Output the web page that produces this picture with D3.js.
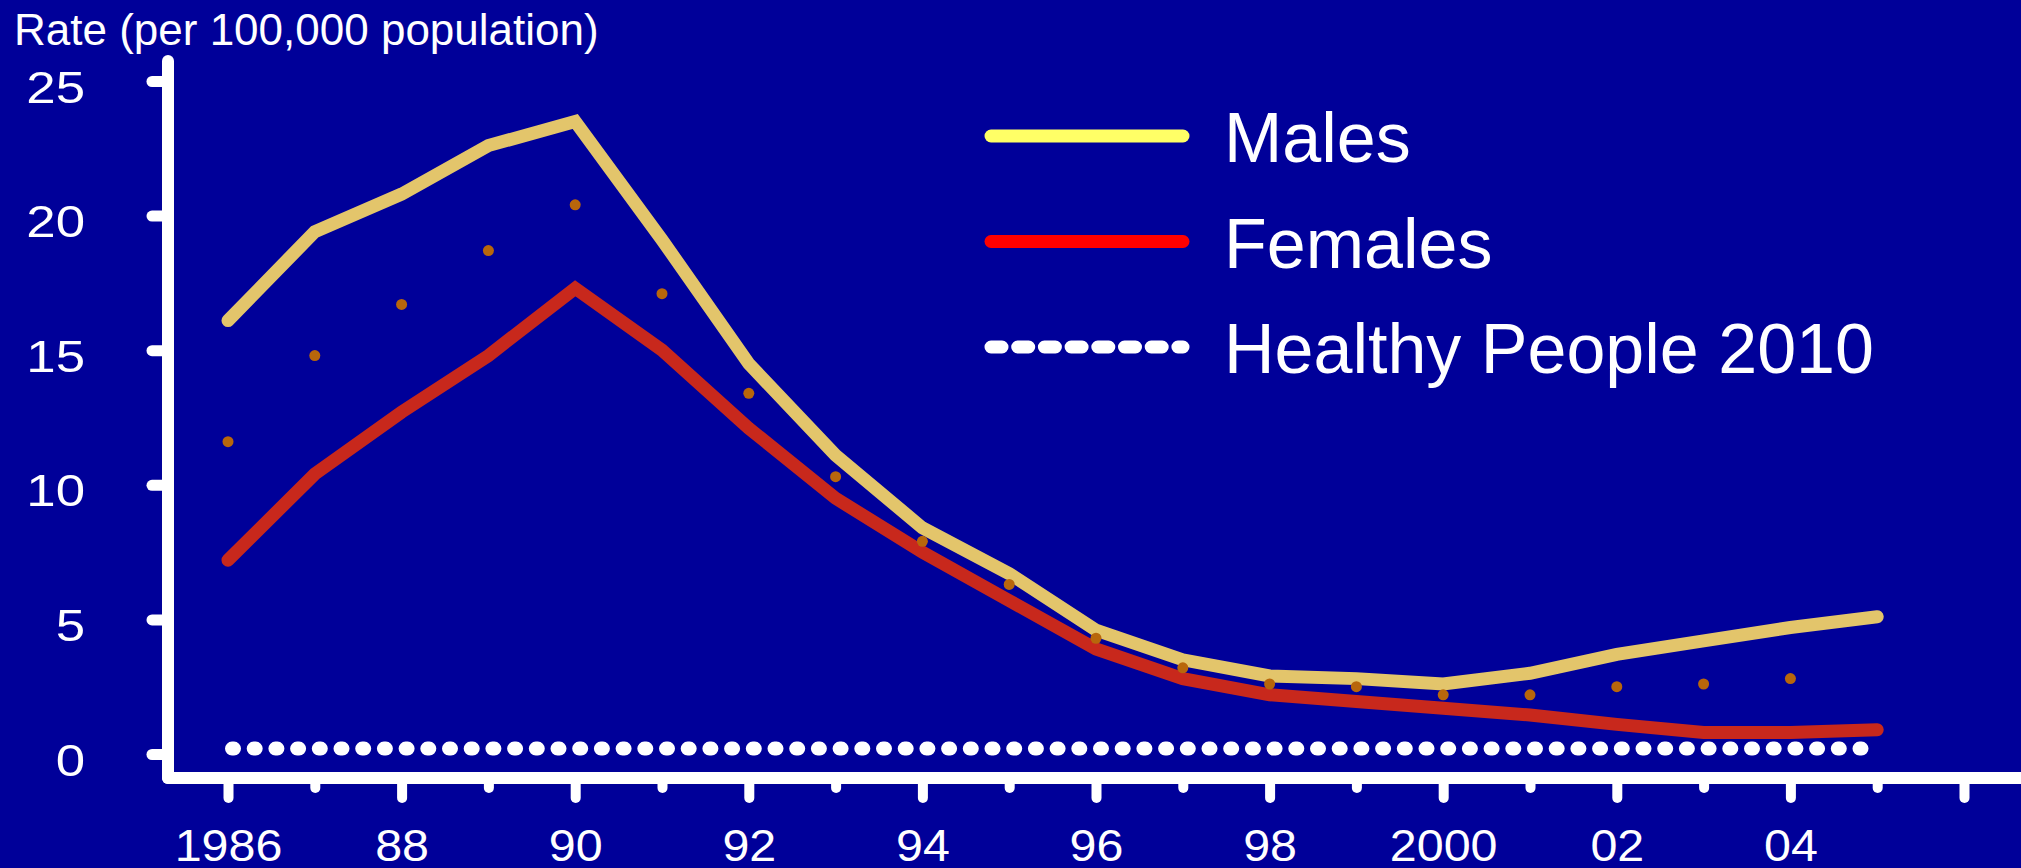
<!DOCTYPE html>
<html>
<head>
<meta charset="utf-8">
<script src="https://cdn.jsdelivr.net/npm/d3@7"></script>
<style>
  body { margin: 0; background: #000099; }
  text { font-family: "Liberation Sans", Arial, sans-serif; fill: #fff; }
</style>
</head>
<body>
<div id="chart"></div>
<script>
// Data
const years = d3.range(1986, 2006);
const males = [16.1, 19.4, 20.8, 22.6, 23.5, 19.1, 14.5, 11.1, 8.4, 6.7, 4.6, 3.5, 2.9, 2.8, 2.6, 3.0, 3.7, 4.2, 4.7, 5.1];
const females = [7.2, 10.4, 12.7, 14.8, 17.3, 15.0, 12.1, 9.5, 7.5, 5.7, 3.9, 2.8, 2.2, 1.95, 1.7, 1.45, 1.1, 0.8, 0.8, 0.9];
const totalYears = d3.range(1986, 2005);
const total = [11.6, 14.8, 16.7, 18.7, 20.4, 17.1, 13.4, 10.3, 7.9, 6.3, 4.3, 3.2, 2.6, 2.5, 2.2, 2.2, 2.5, 2.6, 2.8];
const target = 0.2; // Healthy People 2010
const yTicks = [0, 5, 10, 15, 20, 25];
const xTicks = d3.range(1986, 2007);
const legendLabels = ["Males", "Females", "Healthy People 2010"];

const W = 2021, H = 868;

const svg = d3.select("#chart").append("svg")
  .attr("width", W)
  .attr("height", H);

svg.append("rect").attr("width", W).attr("height", H).attr("fill", "#000099");

const x = d3.scaleLinear().domain([1986, 2006]).range([228, 1964]);
const y = d3.scaleLinear().domain([0, 25]).range([754, 81]);

const axisX0 = 168, axisY0 = 778;

// Axis lines
svg.append("line")
  .attr("x1", axisX0).attr("x2", axisX0)
  .attr("y1", y(25) - 20).attr("y2", axisY0)
  .attr("stroke", "#fff").attr("stroke-width", 12).attr("stroke-linecap", "round");
svg.append("line")
  .attr("x1", axisX0).attr("x2", W + 10)
  .attr("y1", axisY0).attr("y2", axisY0)
  .attr("stroke", "#fff").attr("stroke-width", 12).attr("stroke-linecap", "round");

// Y axis (labels are a bit wider than plain Arial in the original)
const gy = svg.append("g")
  .attr("transform", `translate(${axisX0},0)`)
  .call(d3.axisLeft(y).tickValues(yTicks).tickSize(16).tickFormat(d3.format("d")));
gy.select(".domain").remove();
gy.selectAll(".tick line").attr("stroke", "#fff").attr("stroke-width", 11).attr("stroke-linecap", "round");
gy.selectAll(".tick text")
  .attr("x", 0).attr("dy", "0.48em")
  .attr("transform", "translate(-83,0) scale(1.2,1)")
  .attr("fill", "#fff").attr("font-size", 44)
  .style("font-family", "'Liberation Sans', Arial, sans-serif");

// X axis
const fmtYear = d => {
  if (d % 2 === 1 || d === 2006) return "";
  if (d === 1986 || d === 2000) return String(d);
  return String(d % 100).padStart(2, "0");
};
const gx = svg.append("g")
  .attr("transform", `translate(0,${axisY0})`)
  .call(d3.axisBottom(x).tickValues(xTicks).tickSize(20).tickFormat(fmtYear));
gx.select(".domain").remove();
gx.selectAll(".tick line")
  .attr("y2", d => d % 2 === 0 ? 20 : 10)
  .attr("stroke", "#fff").attr("stroke-width", 10).attr("stroke-linecap", "round");
gx.selectAll(".tick text")
  .attr("y", 0).attr("dy", 0)
  .attr("transform", "translate(0,83) scale(1.1,1)")
  .attr("fill", "#fff").attr("font-size", 44)
  .style("font-family", "'Liberation Sans', Arial, sans-serif");

// Healthy People 2010 target
svg.append("path")
  .datum([1986, 2005])
  .attr("d", d3.line().x(d => x(d) + (d === 1986 ? 4 : -4)).y(() => y(target)))
  .attr("fill", "none")
  .attr("stroke", "#fff")
  .attr("stroke-width", 14)
  .attr("stroke-linecap", "round")
  .attr("stroke-dasharray", "2,19.7");

const line = d3.line().x(d => x(d[0])).y(d => y(d[1]));

svg.append("path")
  .datum(years.map((yr, i) => [yr, females[i]]))
  .attr("d", line)
  .attr("fill", "none")
  .attr("stroke", "#C8281C")
  .attr("stroke-width", 13)
  .attr("stroke-linecap", "round");

svg.append("path")
  .datum(years.map((yr, i) => [yr, males[i]]))
  .attr("d", line)
  .attr("fill", "none")
  .attr("stroke", "#E3C56B")
  .attr("stroke-width", 13)
  .attr("stroke-linecap", "round");

svg.selectAll("circle.total")
  .data(totalYears.map((yr, i) => [yr, total[i]]))
  .enter().append("circle")
  .attr("class", "total")
  .attr("cx", d => x(d[0]))
  .attr("cy", d => y(d[1]))
  .attr("r", 5.5)
  .attr("fill", "#B8660B");

// Legend
const legendColors = ["#FFFF66", "#FF0000", "#FFFFFF"];
const legend = svg.append("g").attr("transform", "translate(991,136)");
legendLabels.forEach((label, i) => {
  const g = legend.append("g").attr("transform", `translate(0,${i * 105.5})`);
  g.append("line")
    .attr("x1", 0).attr("x2", 192)
    .attr("stroke", legendColors[i])
    .attr("stroke-width", 13)
    .attr("stroke-linecap", "round")
    .attr("stroke-dasharray", i === 2 ? "11,15.7" : null);
  g.append("text")
    .attr("x", 233).attr("y", 26)
    .attr("font-size", 70)
    .text(label);
});

// Axis title
svg.append("text")
  .attr("x", 14).attr("y", 45)
  .attr("font-size", 44)
  .text("Rate (per 100,000 population)");
</script>
</body>
</html>
